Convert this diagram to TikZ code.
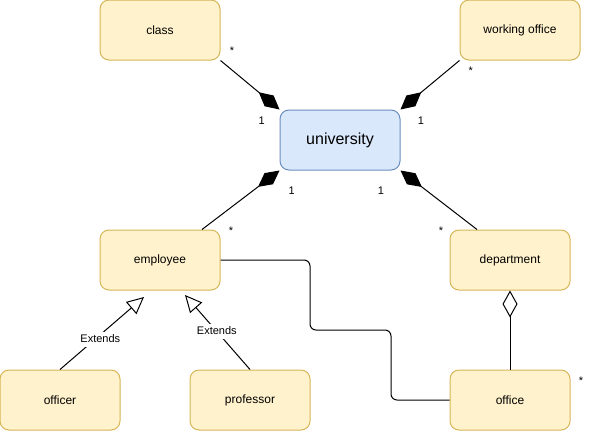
\documentclass[tikz,border=0pt]{standalone}
\usepackage{fontspec}
\setmainfont{Liberation Sans}
\usetikzlibrary{arrows.meta}
\definecolor{yfill}{HTML}{FFF2CC}
\definecolor{ydraw}{HTML}{D6B656}
\definecolor{bfill}{HTML}{DAE8FC}
\definecolor{bdraw}{HTML}{6C8EBF}
\begin{document}
\begin{tikzpicture}[x=1pt,y=-1pt,
  box/.style={draw=ydraw, fill=yfill, rounded corners=9pt, minimum width=120pt, minimum height=60pt, inner sep=0pt, font=\fontsize{12}{14}\selectfont, line width=1pt},
  ubox/.style={box, draw=bdraw, fill=bfill, font=\fontsize{16}{19}\selectfont},
  conn/.style={line width=1pt, draw=black},
  comp/.style={conn, -{Diamond[length=27pt,width=14pt]}},
  agg/.style={conn, -{Diamond[open,length=27pt,width=15pt]}},
  ext/.style={conn, -{Triangle[open,length=17pt,width=16pt]}},
  lbl/.style={fill=white, inner xsep=1pt, inner ysep=2.5pt, text height=8pt, text depth=2.5pt, font=\fontsize{11}{13}\selectfont},
  mult/.style={anchor=base, inner sep=0pt, font=\fontsize{11}{13}\selectfont}
]
\useasboundingbox (0,0) rectangle (601,431);

\node[box]  (class)  at (160,30)  {class};
\node[box]  (work)   at (520,30)  {working office};
\node[ubox] (univ)   at (340,140) {university};
\node[box]  (emp)    at (160,260) {employee};
\node[box]  (dept)   at (510,260) {department};
\node[box]  (office) at (510,400) {office};
\node[box]  (officer) at (60,400) {officer};
\node[box]  (prof)   at (250,400) {professor};

\coordinate (t1) at (144,297);
\coordinate (t2) at (185,295);

% compositions
\draw[comp] (class.south east) -- (univ.north west);
\draw[comp] (work.south west) -- (univ.north east);
\draw[comp] ([xshift=42pt]emp.north) -- (univ.south west);
\draw[comp] ([xshift=-33pt]dept.north) -- (univ.south east);

% aggregation
\draw[agg] (office.north) -- (dept.south);

% association
\draw[conn, rounded corners=6pt] (emp.east) -| (310,330) -| (391,400) -- (office.west);

% generalizations
\draw[ext] (officer.north) -- (t1) node[lbl, pos=0.48, yshift=-5pt] (e1) {Extends};
\draw[ext] (prof.north) -- (t2) node[lbl, pos=0.51] (e2) {Extends};

% multiplicities
\node[mult] (m1) at (232,54.6) {*};
\node[mult] (m2) at (261.7,124.6) {1};
\node[mult] (m3) at (470.7,74.6) {*};
\node[mult] (m4) at (421,124.3) {1};
\node[mult] (m5) at (291.7,194.6) {1};
\node[mult] (m6) at (381,194.6) {1};
\node[mult] (m7) at (231,234.6) {*};
\node[mult] (m8) at (441,234.6) {*};
\node[mult] (m9) at (581,384.6) {*};
\end{tikzpicture}
\end{document}
